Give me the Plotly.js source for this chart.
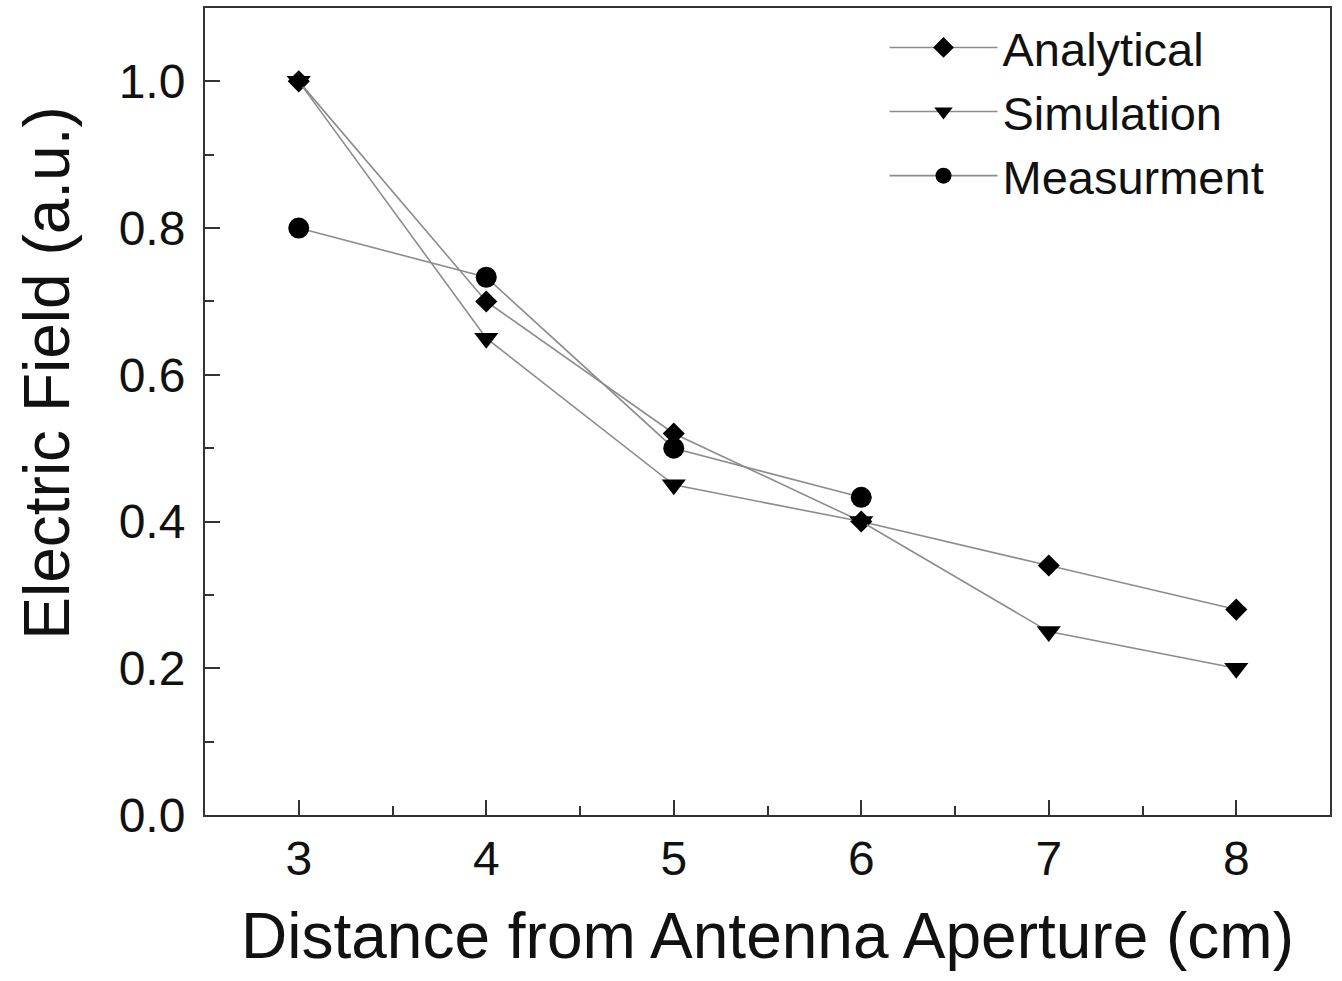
<!DOCTYPE html>
<html>
<head>
<meta charset="utf-8">
<script src="https://cdn.plot.ly/plotly-3.0.1.min.js"></script>
<style>html,body{margin:0;padding:0;background:#fff}#chart{width:1342px;height:981px}</style>
</head>
<body>
<div id="chart"></div>
<script>
const distance = [3, 4, 5, 6, 7, 8];
const analytical = [1.0, 0.70, 0.52, 0.40, 0.34, 0.28];
const simulation = [1.0, 0.65, 0.45, 0.40, 0.25, 0.20];
const measDistance = [3, 4, 5, 6];
const measurement = [0.80, 0.733, 0.50, 0.433];
const xTicks = [3, 4, 5, 6, 7, 8];
const yTicks = [0, 0.2, 0.4, 0.6, 0.8, 1.0];
const yTickText = ['0.0', '0.2', '0.4', '0.6', '0.8', '1.0'];
const xTitle = 'Distance from Antenna Aperture (cm)';
const yTitle = 'Electric Field (a.u.)';

const lineStyle = {color: '#8c8c8c', width: 1.6};
const traces = [
  {x: distance, y: analytical, name: 'Analytical', mode: 'lines+markers',
   line: lineStyle, marker: {symbol: 'diamond', size: 17, color: '#000'}},
  {x: distance, y: simulation, name: 'Simulation', mode: 'lines+markers',
   line: lineStyle, marker: {symbol: 'triangle-down', size: 21, color: '#000'}},
  {x: measDistance, y: measurement, name: 'Measurment', mode: 'lines+markers',
   line: lineStyle, marker: {symbol: 'circle', size: 21, color: '#000'}}
];

const font = 'Liberation Sans, Arial, sans-serif';
const layout = {
  width: 1342, height: 981,
  margin: {l: 205, r: 12, t: 8, b: 166},
  paper_bgcolor: '#fff', plot_bgcolor: '#fff',
  font: {family: font, color: '#111'},
  showlegend: true,
  legend: {x: 0.604, y: 0.997, xanchor: 'left', yanchor: 'top',
           font: {size: 47, family: font, color: '#111'}, bgcolor: 'rgba(0,0,0,0)',
           itemwidth: 108, tracegroupgap: 0},
  xaxis: {
    range: [2.5, 8.5], tickvals: xTicks,
    ticks: 'inside', ticklen: 15, tickwidth: 1.5, tickcolor: '#333',
    minor: {ticks: 'inside', ticklen: 9, tickwidth: 1.5, tickcolor: '#333', dtick: 0.5, tick0: 2.5},
    showgrid: false, zeroline: false,
    showline: true, linecolor: '#333', linewidth: 2, mirror: true,
    tickfont: {size: 48, family: font, color: '#111'},
    ticklabelstandoff: 0,
    title: {text: xTitle, font: {size: 64, family: font, color: '#111'}, standoff: 30}
  },
  yaxis: {
    range: [0, 1.1], tickvals: yTicks, ticktext: yTickText,
    ticks: 'inside', ticklen: 15, tickwidth: 1.5, tickcolor: '#333',
    minor: {ticks: 'inside', ticklen: 9, tickwidth: 1.5, tickcolor: '#333', dtick: 0.1, tick0: 0},
    showgrid: false, zeroline: false,
    showline: true, linecolor: '#333', linewidth: 2, mirror: true,
    tickfont: {size: 48, family: font, color: '#111'},
    ticklabelstandoff: 8
  },
  annotations: [{
    text: yTitle, textangle: -90, showarrow: false,
    xref: 'paper', yref: 'paper', x: -0.1405, y: 0.548,
    xanchor: 'center', yanchor: 'middle',
    font: {size: 64, family: font, color: '#111'}
  }]
};

Plotly.newPlot('chart', traces, layout, {displayModeBar: false, responsive: false});
</script>
</body>
</html>
